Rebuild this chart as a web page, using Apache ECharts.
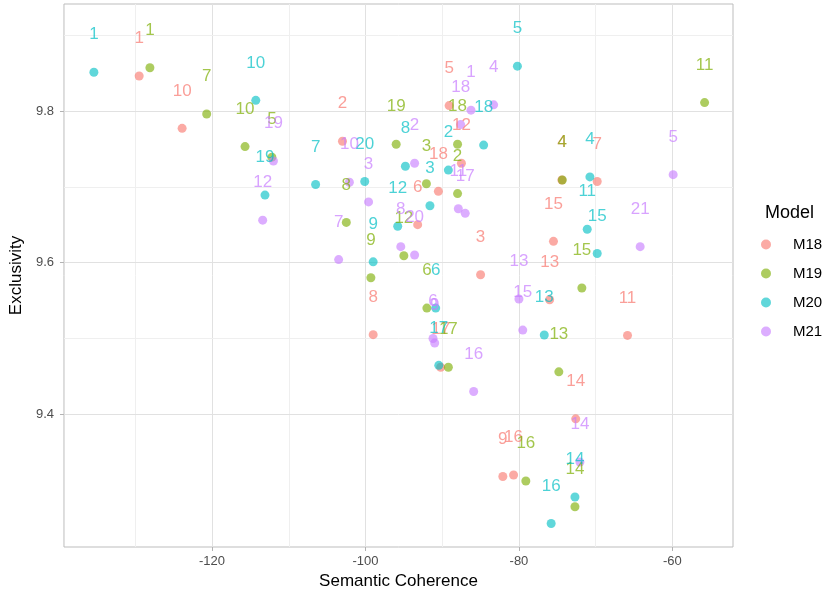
<!DOCTYPE html>
<html>
<head>
<meta charset="utf-8">
<script src="https://cdn.jsdelivr.net/npm/echarts@6/dist/echarts.min.js"></script>
<style>html,body{margin:0;padding:0;background:#fff}#c{width:832px;height:596px}</style>
</head>
<body>
<div id="c"></div>
<script>
// ---- data ----
const models = ['M18', 'M19', 'M20', 'M21'];
const m18X = [-129.5,-103.0,-85.0,-74.4,-89.1,-93.2,-69.8,-99.0,-82.1,-123.9,-65.85,-87.5,-76.0,-72.6,-75.5,-80.7,-90.2,-90.5];
const m18Y = [9.846,9.760,9.584,9.709,9.807,9.650,9.707,9.505,9.318,9.777,9.504,9.731,9.551,9.394,9.628,9.320,9.462,9.694];
const m19X = [-128.1,-88.0,-92.06,-74.35,-112.2,-92.0,-120.7,-102.5,-99.3,-115.7,-55.8,-95.0,-74.8,-72.7,-71.8,-79.1,-89.2,-88.0,-96.0];
const m19Y = [9.857,9.691,9.704,9.709,9.739,9.540,9.796,9.653,9.580,9.753,9.811,9.609,9.456,9.278,9.5665,9.312,9.462,9.756,9.756];
const m20X = [-135.4,-89.2,-91.6,-70.75,-80.2,-90.85,-106.5,-94.8,-99.0,-114.3,-71.1,-95.8,-76.7,-72.7,-69.8,-75.8,-90.45,-84.6,-113.1,-100.1];
const m20Y = [9.851,9.722,9.675,9.713,9.859,9.540,9.703,9.727,9.601,9.814,9.644,9.648,9.5045,9.291,9.612,9.256,9.4645,9.755,9.689,9.707];
const m21X = [-86.25,-93.6,-99.6,-83.3,-59.9,-91.2,-103.5,-95.4,-90.98,-102.1,-87.9,-113.4,-80.0,-72.05,-79.5,-85.9,-87.0,-87.6,-112.0,-93.6,-64.2];
const m21Y = [9.801,9.731,9.680,9.808,9.716,9.500,9.604,9.621,9.494,9.706,9.671,9.656,9.552,9.337,9.511,9.430,9.665,9.782,9.734,9.610,9.621];
const xMajorTicks = [-120, -100, -80, -60];
const xMinorGrid = [-130, -110, -90, -70];
const yMajorTicks = [9.4, 9.6, 9.8];
const yMinorGrid = [9.5, 9.7, 9.9];

// ---- styling ----
const colors = ['#F8766D', '#7CAE00', '#00BFC4', '#C77CFF'];
const FONT = "'Liberation Sans', Arial, sans-serif";
function rgba(hex, a) {
  const n = parseInt(hex.slice(1), 16);
  return `rgba(${(n>>16)&255},${(n>>8)&255},${n&255},${a})`;
}
const xs = [m18X, m19X, m20X, m21X];
const ys = [m18Y, m19Y, m20Y, m21Y];

const gridLines = [];
xMajorTicks.forEach(v => gridLines.push({xAxis: v, lineStyle: {color: '#e1e1e1', width: 1, type: 'solid'}}));
xMinorGrid.forEach(v => gridLines.push({xAxis: v, lineStyle: {color: '#efefef', width: 1, type: 'solid'}}));
yMajorTicks.forEach(v => gridLines.push({yAxis: v, lineStyle: {color: '#e1e1e1', width: 1, type: 'solid'}}));
yMinorGrid.forEach(v => gridLines.push({yAxis: v, lineStyle: {color: '#efefef', width: 1, type: 'solid'}}));

const series = models.map((m, k) => {
  const s = {
    name: m,
    type: 'scatter',
    symbol: 'circle',
    symbolSize: 9,
    z: 2,
    itemStyle: {color: rgba(colors[k], 0.78)},
    label: {
      show: true,
      position: 'inside',
      offset: [0, -37.5],
      formatter: p => p.name,
      color: rgba(colors[k], 0.88),
      fontSize: 17,
      fontFamily: FONT
    },
    emphasis: {disabled: true},
    data: xs[k].map((x, i) => ({name: String(i + 1), value: [x, ys[k][i]]}))
  };
  if (k === 0) {
    s.markLine = {silent: true, z: 1, symbol: ['none', 'none'], label: {show: false}, animation: false, data: gridLines};
  }
  return s;
});

const chart = echarts.init(document.getElementById('c'), null, {renderer: 'canvas'});
chart.setOption({
  animation: false,
  backgroundColor: '#fff',
  textStyle: {fontFamily: FONT},
  grid: {left: 63, right: 99, top: 4, bottom: 49, show: true, borderColor: '#bdbdbd', borderWidth: 1, backgroundColor: 'transparent'},
  title: {text: 'Model', left: 760, top: 199, textStyle: {fontSize: 18, fontWeight: 'normal', color: '#000', fontFamily: FONT}},
  legend: {
    data: models, orient: 'vertical', left: 756, top: 232,
    itemWidth: 44, itemHeight: 10, itemGap: 14, icon: 'circle',
    textStyle: {fontSize: 15, lineHeight: 15, color: '#000', fontFamily: FONT},
    selectedMode: false
  },
  xAxis: {
    type: 'value', min: -139.3, max: -52.1,
    name: 'Semantic Coherence', nameLocation: 'middle', nameGap: 26,
    nameTextStyle: {fontSize: 17, color: '#000', fontFamily: FONT},
    axisLine: {show: false},
    axisTick: {show: true, length: 4, lineStyle: {color: '#b3b3b3'}, customValues: xMajorTicks},
    axisLabel: {color: '#4d4d4d', fontSize: 13, margin: 8, customValues: xMajorTicks, fontFamily: FONT},
    splitLine: {show: false}
  },
  yAxis: {
    type: 'value', min: 9.225, max: 9.941,
    name: 'Exclusivity', nameLocation: 'middle', nameGap: 33,
    nameTextStyle: {fontSize: 17, color: '#000', fontFamily: FONT},
    axisLine: {show: false},
    axisTick: {show: true, length: 4, lineStyle: {color: '#b3b3b3'}, customValues: yMajorTicks},
    axisLabel: {color: '#4d4d4d', fontSize: 13, margin: 10, customValues: yMajorTicks, fontFamily: FONT,
      formatter: v => v.toFixed(1)},
    splitLine: {show: false}
  },
  series: series
});
</script>
</body>
</html>
